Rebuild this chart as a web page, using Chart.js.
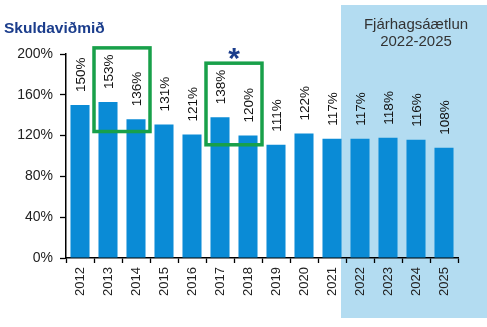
<!DOCTYPE html>
<html>
<head>
<meta charset="utf-8">
<script src="https://cdn.jsdelivr.net/npm/chart.js@4/dist/chart.umd.min.js"></script>
<style>
html,body{margin:0;padding:0;background:#fff;}
#wrap{width:487px;height:327px;position:relative;}
</style>
</head>
<body>
<div id="wrap"><canvas id="c" width="487" height="327"></canvas></div>
<script>
const categories = ['2012','2013','2014','2015','2016','2017','2018','2019','2020','2021','2022','2023','2024','2025'];
const values = [150,153,136,131,121,138,120,111,122,117,117,118,116,108];
const valueLabels = ['150%','153%','136%','131%','121%','138%','120%','111%','122%','117%','117%','118%','116%','108%'];
const yTicks = [0,40,80,120,160,200];
const titleText = 'Skuldaviðmið';
const forecastLines = ['Fjárhagsáætlun','2022-2025'];
const forecastStart = 10; // index of 2022
const box1 = {from:1, to:2, top:206, bottom:124};
const box2 = {from:5, to:6, top:191, bottom:111};

const FONT = '"Liberation Sans", Arial, sans-serif';

const decor = {
  id:'decor',
  beforeDraw(chart){
    const ctx = chart.ctx, x = chart.scales.x;
    const left = x.getPixelForValue(forecastStart) - x.width/categories.length/2 - 5;
    ctx.save();
    ctx.fillStyle = '#b3dcf1';
    ctx.fillRect(left, 5, chart.width - left, 313);
    ctx.restore();
  },
  afterDatasetsDraw(chart){
    const ctx = chart.ctx, x = chart.scales.x, y = chart.scales.y;
    const meta = chart.getDatasetMeta(0);
    ctx.save();
    // value labels
    ctx.fillStyle = '#111';
    ctx.font = '13.5px ' + FONT;
    ctx.textAlign = 'left';
    ctx.textBaseline = 'middle';
    meta.data.forEach((bar,i)=>{
      ctx.save();
      ctx.translate(bar.x + 1, bar.y - 13);
      ctx.rotate(-Math.PI/2);
      ctx.fillText(valueLabels[i], 0, 0);
      ctx.restore();
    });
    // green boxes
    const step = x.width / categories.length;
    ctx.strokeStyle = '#18a04a';
    ctx.lineWidth = 3.5;
    [box1, box2].forEach(b=>{
      const l = x.getPixelForValue(b.from) - step/2;
      const r = x.getPixelForValue(b.to) + step/2;
      const t = y.getPixelForValue(b.top);
      const bt = y.getPixelForValue(b.bottom);
      ctx.strokeRect(l, t, r - l, bt - t);
    });
    // asterisk
    const ax = (x.getPixelForValue(box2.from) + x.getPixelForValue(box2.to)) / 2;
    ctx.fillStyle = '#1b3d8c';
    ctx.font = 'bold 30px ' + FONT;
    ctx.textAlign = 'center';
    ctx.textBaseline = 'alphabetic';
    ctx.fillText('*', ax, 68);
    // title
    ctx.fillStyle = '#1b3d8c';
    ctx.font = 'bold 15.5px ' + FONT;
    ctx.textAlign = 'left';
    ctx.textBaseline = 'middle';
    ctx.fillText(titleText, 4, 29);
    // forecast text
    ctx.fillStyle = '#333';
    ctx.font = '15px ' + FONT;
    ctx.textAlign = 'center';
    ctx.fillText(forecastLines[0], 416, 25);
    ctx.fillText(forecastLines[1], 416, 42);
    ctx.restore();
  }
};

new Chart(document.getElementById('c'), {
  type:'bar',
  data:{
    labels:categories,
    datasets:[{
      data:values,
      backgroundColor:'#0a8bd6',
      borderWidth:0,
      categoryPercentage:1,
      barPercentage:0.68
    }]
  },
  options:{
    responsive:false,
    animation:false,
    layout:{padding:{top:54,right:29,left:0,bottom:0}},
    plugins:{legend:{display:false},tooltip:{enabled:false},title:{display:false}},
    scales:{
      x:{
        offset:true,
        grid:{display:true, offset:true, drawOnChartArea:false, tickLength:5, color:'#000', tickWidth:1.3},
        border:{display:true, color:'#000', width:1.5},
        ticks:{color:'#222', font:{size:13, family:FONT}, maxRotation:90, minRotation:90, padding:4, autoSkip:false},
        afterFit(s){ s.height = 69; }
      },
      y:{
        min:0, max:200,
        afterBuildTicks(s){ s.ticks = yTicks.map(v=>({value:v})); },
        grid:{display:true, drawOnChartArea:false, tickLength:6, color:'#000', tickWidth:1.3},
        border:{display:true, color:'#000', width:1.5},
        ticks:{color:'#222', font:{size:14, family:FONT}, padding:7, callback:v=>v+'%'},
        afterFit(s){ s.width = 66; }
      }
    }
  },
  plugins:[decor]
});
</script>
</body>
</html>
